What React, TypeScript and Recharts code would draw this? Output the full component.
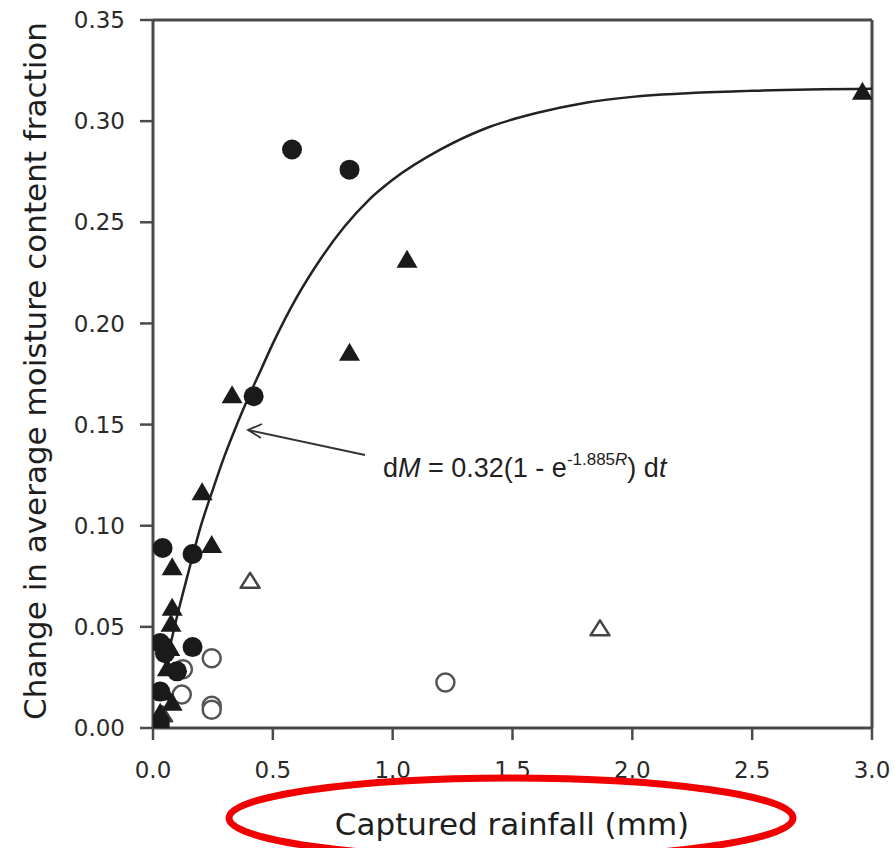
import React from 'react';
import {
  ScatterChart,
  Scatter,
  XAxis,
  YAxis,
  ReferenceLine,
} from 'recharts';

// tick values
const rainfallTicks = [0, 0.5, 1.0, 1.5, 2.0, 2.5, 3.0];
const moistureTicks = [0, 0.05, 0.1, 0.15, 0.2, 0.25, 0.3, 0.35];

const filledCircles = [
  { x: 0.58, y: 0.286 },
  { x: 0.82, y: 0.276 },
  { x: 0.42, y: 0.164 },
  { x: 0.04, y: 0.089 },
  { x: 0.165, y: 0.086 },
  { x: 0.165, y: 0.04 },
  { x: 0.03, y: 0.042 },
  { x: 0.05, y: 0.037 },
  { x: 0.1, y: 0.028 },
  { x: 0.03, y: 0.018 },
];

const filledTriangles = [
  { x: 2.96, y: 0.315 },
  { x: 1.06, y: 0.232 },
  { x: 0.82, y: 0.186 },
  { x: 0.33, y: 0.165 },
  { x: 0.205, y: 0.117 },
  { x: 0.245, y: 0.091 },
  { x: 0.08, y: 0.08 },
  { x: 0.08, y: 0.06 },
  { x: 0.075, y: 0.052 },
  { x: 0.07, y: 0.04 },
  { x: 0.06, y: 0.03 },
  { x: 0.05, y: 0.018 },
  { x: 0.08, y: 0.013 },
  { x: 0.03, y: 0.008 },
];

const openTriangles = [
  { x: 0.405, y: 0.073 },
  { x: 1.865, y: 0.0495 },
  { x: 0.04, y: 0.007 },
];

const openCircles = [
  { x: 1.22, y: 0.0225 },
  { x: 0.245, y: 0.0345 },
  { x: 0.245, y: 0.011 },
  { x: 0.245, y: 0.009 },
  { x: 0.125, y: 0.029 },
  { x: 0.12, y: 0.0165 },
];

const filledSquares = [
  { x: 0.03, y: 0.001 },
  { x: 0.04, y: 0.0 },
];

// fitted curve dM = 0.32(1 - e^-1.885R) dt
const fittedCurve = [
  { x: 0.05, y: 0.03 },
  { x: 0.1, y: 0.055 },
  { x: 0.15, y: 0.078 },
  { x: 0.2, y: 0.1 },
  { x: 0.25, y: 0.118 },
  { x: 0.3, y: 0.135 },
  { x: 0.35, y: 0.15 },
  { x: 0.4, y: 0.164 },
  { x: 0.45, y: 0.177 },
  { x: 0.5, y: 0.19 },
  { x: 0.55, y: 0.202 },
  { x: 0.6, y: 0.213 },
  { x: 0.7, y: 0.232 },
  { x: 0.8, y: 0.248 },
  { x: 0.9, y: 0.261 },
  { x: 1.0, y: 0.271 },
  { x: 1.2, y: 0.286 },
  { x: 1.4, y: 0.297 },
  { x: 1.6, y: 0.304 },
  { x: 1.8, y: 0.309 },
  { x: 2.0, y: 0.312 },
  { x: 2.5, y: 0.315 },
  { x: 3.0, y: 0.316 },
];

const INK = '#1a1a1a';
const AXIS = '#4a4a4a';
const FONT = 'DejaVu Sans';

const FilledCircle = (p: any) => <circle cx={p.cx} cy={p.cy} r={10} fill={INK} />;
const OpenCircle = (p: any) => (
  <circle cx={p.cx} cy={p.cy} r={9} fill="#fff" stroke="#555" strokeWidth={2.5} />
);
const triPath = (cx: number, cy: number, w: number, h: number) =>
  `M${cx},${cy - h / 2} L${cx + w / 2},${cy + h / 2} L${cx - w / 2},${cy + h / 2} Z`;
const FilledTriangle = (p: any) => <path d={triPath(p.cx, p.cy, 21, 18)} fill={INK} />;
const OpenTriangle = (p: any) => (
  <path d={triPath(p.cx, p.cy, 19, 15)} fill="#fff" stroke="#444" strokeWidth={2.5} strokeLinejoin="round" />
);
const FilledSquare = (p: any) => <rect x={p.cx - 7} y={p.cy - 7} width={14} height={14} fill={INK} />;
const NoDot = () => <g />;

const App: React.FC = () => {
  return (
    <div style={{ position: 'absolute', left: 0, top: 0, width: 895, height: 848, background: '#fff' }}>
      <ScatterChart width={895} height={848} margin={{ top: 20, right: 23, bottom: 0, left: 0 }}>
        <XAxis
          type="number"
          dataKey="x"
          domain={[0, 3]}
          ticks={rainfallTicks}
          tickFormatter={(v: number) => v.toFixed(1)}
          height={120}
          tickSize={12}
          tickMargin={22}
          interval={0}
          axisLine={{ stroke: AXIS, strokeWidth: 3 }}
          tickLine={{ stroke: AXIS, strokeWidth: 2.5 }}
          tick={{ fill: '#2a2a2a', fontSize: 23, fontFamily: FONT }}
          allowDataOverflow
        />
        <YAxis
          type="number"
          dataKey="y"
          domain={[0, 0.35]}
          ticks={moistureTicks}
          tickFormatter={(v: number) => v.toFixed(2)}
          width={153}
          tickSize={13}
          tickMargin={15}
          interval={0}
          axisLine={{ stroke: AXIS, strokeWidth: 3 }}
          tickLine={{ stroke: AXIS, strokeWidth: 2.5 }}
          tick={{ fill: '#2a2a2a', fontSize: 23, fontFamily: FONT }}
          allowDataOverflow
        />
        <ReferenceLine y={0.35} stroke={AXIS} strokeWidth={3} />
        <ReferenceLine x={3} stroke={AXIS} strokeWidth={3} />
        <Scatter
          data={fittedCurve}
          line={{ stroke: '#222', strokeWidth: 2.5 }}
          lineJointType="monotoneX"
          shape={NoDot}
          isAnimationActive={false}
        />
        <Scatter data={openCircles} shape={OpenCircle} isAnimationActive={false} />
        <Scatter data={openTriangles} shape={OpenTriangle} isAnimationActive={false} />
        <Scatter data={filledSquares} shape={FilledSquare} isAnimationActive={false} />
        <Scatter data={filledTriangles} shape={FilledTriangle} isAnimationActive={false} />
        <Scatter data={filledCircles} shape={FilledCircle} isAnimationActive={false} />
      </ScatterChart>
      <svg
        width={895}
        height={848}
        style={{ position: 'absolute', left: 0, top: 0, pointerEvents: 'none' }}
      >
        <text
          x={0}
          y={0}
          transform="translate(46,371) rotate(-90)"
          textAnchor="middle"
          fontFamily={FONT}
          fontSize={31}
          fill="#1e1e1e"
        >
          Change in average moisture content fraction
        </text>
        <text x={512} y={835} textAnchor="middle" fontFamily={FONT} fontSize={31} fill="#1e1e1e">
          Captured rainfall (mm)
        </text>
        <ellipse cx={511} cy={818} rx={282} ry={40} fill="none" stroke="#f00000" strokeWidth={7} />
        {/* annotation arrow pointing at the fitted curve */}
        <line x1={365} y1={455} x2={248} y2={430} stroke="#333" strokeWidth={1.8} />
        <polyline points="262,424 248,430 261,438" fill="none" stroke="#333" strokeWidth={1.8} />
        <text x={383} y={477} fontFamily="Liberation Sans" fontSize={27} fill="#222">
          d<tspan fontStyle="italic">M</tspan> = 0.32(1 - e
          <tspan dy={-12} fontSize={17}>
            -1.885<tspan fontStyle="italic">R</tspan>
          </tspan>
          <tspan dy={12}>) d</tspan>
          <tspan fontStyle="italic">t</tspan>
        </text>
      </svg>
    </div>
  );
};

export default App;
